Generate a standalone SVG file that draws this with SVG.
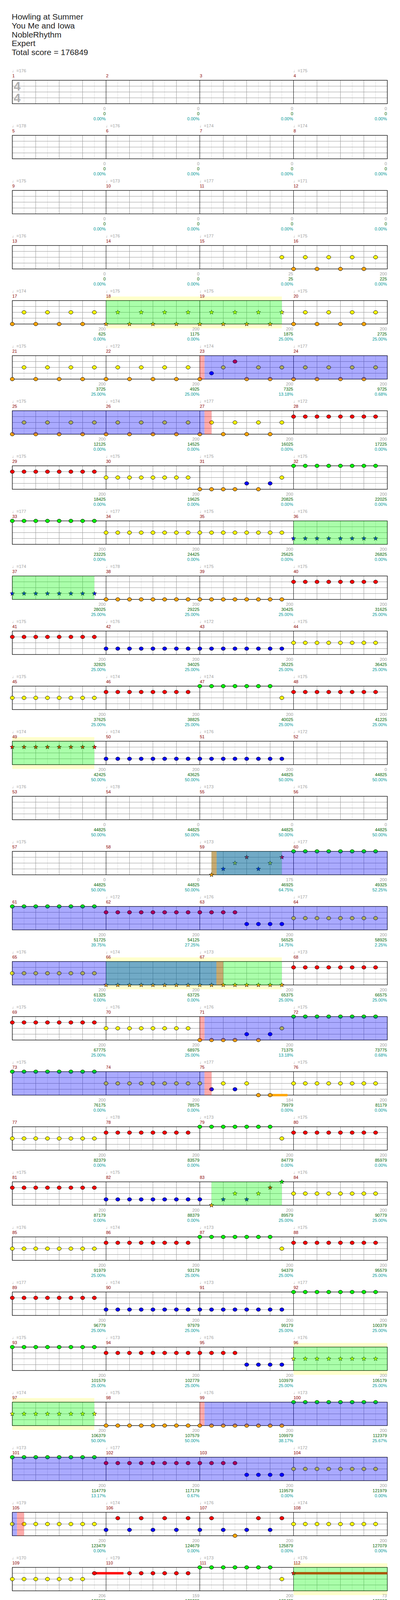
<svg xmlns="http://www.w3.org/2000/svg" width="1024" height="5845" viewBox="0 0 1024 5845">
<style>
text{font-family:"Liberation Sans","DejaVu Sans",sans-serif;font-size:11px}
.ti{font-size:21px;fill:#1e1e1e}
.ts{font-size:32px;font-weight:bold;fill:#b0b0b0}
.tp{fill:#a0a0a0}
.mn{fill:#8b0000}
.t1,.t2,.t3{text-anchor:end}
.t1{fill:#a0a0a0}
.t2{fill:#006400}
.t3{fill:#009999}
.g{fill:#00ee00}.r{fill:#ff0000}.y{fill:#ffff00}.b{fill:#0000ff}.o{fill:#ffa500}
.og{fill:#00ff00;fill-opacity:.333}
.ob{fill:#0000ff;fill-opacity:.333}
.op{fill:#ff0000;fill-opacity:.333}
.bd{fill:#ffffcc}
</style>
<defs>
<g id="grid">
<rect x="31.5" width="960" height="60" fill="#fff"/>
<path stroke="#ddd" d="M61.5 0v60M121.5 0v60M181.5 0v60M241.5 0v60M301.5 0v60M361.5 0v60M421.5 0v60M481.5 0v60M541.5 0v60M601.5 0v60M661.5 0v60M721.5 0v60M781.5 0v60M841.5 0v60M901.5 0v60M961.5 0v60"/>
<path stroke="#999" d="M91.5 0v60M151.5 0v60M211.5 0v60M331.5 0v60M391.5 0v60M451.5 0v60M571.5 0v60M631.5 0v60M691.5 0v60M811.5 0v60M871.5 0v60M931.5 0v60M31.5 15H991.5M31.5 30H991.5M31.5 45H991.5"/>
<path stroke="#000" d="M271.5 0v60M511.5 0v60M751.5 0v60"/>
<rect x="31.5" width="960" height="60" fill="none" stroke="#000" stroke-width="1.3"/>
</g>
<ellipse id="c" rx="5.3" ry="4.6" stroke="#000"/>
<polygon id="s" stroke="#000" stroke-width=".8" points="0,-6 1.47,-2.02 5.71,-1.85 2.38,.77 3.53,4.85 0,2.5 -3.53,4.85 -2.38,.77 -5.71,-1.85 -1.47,-2.02"/>
<g id="c4"><use href="#c"/><use href="#c" x="30"/><use href="#c" x="60"/><use href="#c" x="90"/></g>
<g id="c7"><use href="#c4"/><use href="#c" x="120"/><use href="#c" x="150"/><use href="#c" x="180"/></g>
<g id="c8"><use href="#c4"/><use href="#c4" x="120"/></g>
<g id="c9"><use href="#c8"/><use href="#c" x="240"/></g>
<g id="c12"><use href="#c8"/><use href="#c4" x="240"/></g>
<g id="c16"><use href="#c8"/><use href="#c8" x="240"/></g>
<g id="a4"><use href="#c"/><use href="#c" x="60"/><use href="#c" x="120"/><use href="#c" x="180"/></g>
<g id="a8"><use href="#a4"/><use href="#a4" x="240"/></g>
<g id="s4"><use href="#s"/><use href="#s" x="30"/><use href="#s" x="60"/><use href="#s" x="90"/></g>
<g id="s8"><use href="#s4"/><use href="#s4" x="120"/></g>
<g id="s7"><use href="#s4"/><use href="#s" x="120"/><use href="#s" x="150"/><use href="#s" x="180"/></g>
<g id="sa4"><use href="#s"/><use href="#s" x="60"/><use href="#s" x="120"/><use href="#s" x="180"/></g>
<g id="sa8"><use href="#sa4"/><use href="#sa4" x="240"/></g>
<g id="pA"><use href="#c8" class="y" x="31.5" y="30"/><use href="#c8" class="r" x="271.5" y="15"/><use href="#c7" class="g" x="511.5"/><use href="#c" class="y" x="721.5" y="30"/><use href="#c8" class="r" x="751.5" y="15"/></g>
<g id="pB"><use href="#c8" class="r" x="31.5" y="15"/><use href="#c8" class="y" x="271.5" y="30"/><use href="#c4" class="o" x="511.5" y="60"/><use href="#c" class="b" x="631.5" y="45"/><use href="#c" class="o" x="661.5" y="60"/><use href="#c" class="b" x="691.5" y="45"/><use href="#c" class="y" x="721.5" y="30"/><use href="#c8" class="g" x="751.5"/></g>
<g id="pC"><use href="#c8" class="g" x="31.5"/><use href="#c12" class="r" x="271.5" y="15"/><use href="#c4" class="b" x="631.5" y="45"/><use href="#c8" class="y" x="751.5" y="30"/></g>
</defs>
<rect width="1024" height="5845" fill="#fff"/>
<g id="title">
<text class="ti" x="30" y="49.5">Howling at Summer</text>
<text class="ti" x="30" y="72.5">You Me and Iowa</text>
<text class="ti" x="30" y="95.5">NobleRhythm</text>
<text class="ti" x="30" y="118">Expert</text>
<text class="ti" x="30" y="141">Total score = 176849</text>
</g>

<g id="row1" transform="translate(0,205.5)">
<use href="#grid"/>
<text class="ts" x="35" y="26.5">4</text><text class="ts" x="35" y="56.5">4</text>
<text class="tp" y="-20.5"><tspan x="31">♩=176</tspan><tspan x="751">♩=175</tspan></text>
<text class="mn" y="-7.8"><tspan x="31.5">1</tspan><tspan x="271.5">2</tspan><tspan x="511.5">3</tspan><tspan x="751.5">4</tspan></text>
<text class="t1" y="76.5"><tspan x="270.5">0</tspan><tspan x="510.5">0</tspan><tspan x="750.5">0</tspan><tspan x="990.5">0</tspan></text>
<text class="t2" y="89.5"><tspan x="270.5">0</tspan><tspan x="510.5">0</tspan><tspan x="750.5">0</tspan><tspan x="990.5">0</tspan></text>
<text class="t3" y="102.5"><tspan x="270.5">0.00%</tspan><tspan x="510.5">0.00%</tspan><tspan x="750.5">0.00%</tspan><tspan x="990.5">0.00%</tspan></text>
</g>

<g id="row2" transform="translate(0,346.5)">
<use href="#grid"/>
<text class="tp" y="-20.5"><tspan x="31">♩=178</tspan><tspan x="271">♩=176</tspan><tspan x="511">♩=174</tspan><tspan x="751">♩=174</tspan></text>
<text class="mn" y="-7.8"><tspan x="31.5">5</tspan><tspan x="271.5">6</tspan><tspan x="511.5">7</tspan><tspan x="751.5">8</tspan></text>
<text class="t1" y="76.5"><tspan x="270.5">0</tspan><tspan x="510.5">0</tspan><tspan x="750.5">0</tspan><tspan x="990.5">0</tspan></text>
<text class="t2" y="89.5"><tspan x="270.5">0</tspan><tspan x="510.5">0</tspan><tspan x="750.5">0</tspan><tspan x="990.5">0</tspan></text>
<text class="t3" y="102.5"><tspan x="270.5">0.00%</tspan><tspan x="510.5">0.00%</tspan><tspan x="750.5">0.00%</tspan><tspan x="990.5">0.00%</tspan></text>
</g>

<g id="row3" transform="translate(0,487.5)">
<use href="#grid"/>
<text class="tp" y="-20.5"><tspan x="31">♩=175</tspan><tspan x="271">♩=173</tspan><tspan x="511">♩=177</tspan><tspan x="751">♩=171</tspan></text>
<text class="mn" y="-7.8"><tspan x="31.5">9</tspan><tspan x="271.5">10</tspan><tspan x="511.5">11</tspan><tspan x="751.5">12</tspan></text>
<text class="t1" y="76.5"><tspan x="270.5">0</tspan><tspan x="510.5">0</tspan><tspan x="750.5">0</tspan><tspan x="990.5">0</tspan></text>
<text class="t2" y="89.5"><tspan x="270.5">0</tspan><tspan x="510.5">0</tspan><tspan x="750.5">0</tspan><tspan x="990.5">0</tspan></text>
<text class="t3" y="102.5"><tspan x="270.5">0.00%</tspan><tspan x="510.5">0.00%</tspan><tspan x="750.5">0.00%</tspan><tspan x="990.5">0.00%</tspan></text>
</g>

<g id="row4" transform="translate(0,628.5)">
<use href="#grid"/>
<use href="#a4" class="y" x="721.5" y="30"/><use href="#c" class="y" x="961.5" y="30"/><use href="#a4" class="o" x="751.5" y="60"/>
<text class="tp" y="-20.5"><tspan x="31">♩=176</tspan><tspan x="271">♩=176</tspan><tspan x="511">♩=177</tspan><tspan x="751">♩=175</tspan></text>
<text class="mn" y="-7.8"><tspan x="31.5">13</tspan><tspan x="271.5">14</tspan><tspan x="511.5">15</tspan><tspan x="751.5">16</tspan></text>
<text class="t1" y="76.5"><tspan x="270.5">0</tspan><tspan x="510.5">0</tspan><tspan x="750.5">25</tspan><tspan x="990.5">200</tspan></text>
<text class="t2" y="89.5"><tspan x="270.5">0</tspan><tspan x="510.5">0</tspan><tspan x="750.5">25</tspan><tspan x="990.5">225</tspan></text>
<text class="t3" y="102.5"><tspan x="270.5">0.00%</tspan><tspan x="510.5">0.00%</tspan><tspan x="750.5">0.00%</tspan><tspan x="990.5">0.00%</tspan></text>
</g>

<g id="row5" transform="translate(0,769.5)">
<rect class="bd" x="271.5" y="-10.5" width="450" height="81.5"/>
<use href="#grid"/>
<use href="#a4" class="y" x="61.5" y="30"/><use href="#a4" class="o" x="31.5" y="60"/>
<use href="#sa8" class="y" x="301.5" y="30"/><use href="#sa8" class="o" x="271.5" y="60"/>
<use href="#a4" class="y" x="781.5" y="30"/><use href="#a4" class="o" x="751.5" y="60"/>
<rect class="og" x="271.5" width="450" height="60"/>
<text class="tp" y="-20.5"><tspan x="31">♩=174</tspan><tspan x="271">♩=175</tspan><tspan x="511">♩=175</tspan><tspan x="751">♩=175</tspan></text>
<text class="mn" y="-7.8"><tspan x="31.5">17</tspan><tspan x="271.5">18</tspan><tspan x="511.5">19</tspan><tspan x="751.5">20</tspan></text>
<text class="t1" y="76.5"><tspan x="270.5">200</tspan><tspan x="510.5">200</tspan><tspan x="750.5">200</tspan><tspan x="990.5">200</tspan></text>
<text class="t2" y="89.5"><tspan x="270.5">625</tspan><tspan x="510.5">1175</tspan><tspan x="750.5">1875</tspan><tspan x="990.5">2725</tspan></text>
<text class="t3" y="102.5"><tspan x="270.5">0.00%</tspan><tspan x="510.5">0.00%</tspan><tspan x="750.5">25.00%</tspan><tspan x="990.5">25.00%</tspan></text>
</g>

<g id="row6" transform="translate(0,910.5)">
<use href="#grid"/>
<use href="#a8" class="y" x="61.5" y="30"/><use href="#a8" class="o" x="31.5" y="60"/><use href="#c" class="o" x="511.5" y="60"/>
<use href="#c" class="b" x="541.5" y="45"/><use href="#c" class="y" x="571.5" y="30"/><use href="#c" class="r" x="601.5" y="15"/>
<use href="#a4" class="y" x="661.5" y="30"/><use href="#c" class="y" x="901.5" y="30"/><use href="#c" class="y" x="961.5" y="30"/>
<use href="#a4" class="o" x="631.5" y="60"/><use href="#c" class="o" x="871.5" y="60"/><use href="#c" class="o" x="931.5" y="60"/>
<rect class="ob" x="523.5" width="468" height="60"/><rect class="op" x="511.5" width="12" height="60"/>
<text class="tp" y="-20.5"><tspan x="31">♩=175</tspan><tspan x="271">♩=172</tspan><tspan x="511">♩=174</tspan><tspan x="751">♩=177</tspan></text>
<text class="mn" y="-7.8"><tspan x="31.5">21</tspan><tspan x="271.5">22</tspan><tspan x="511.5">23</tspan><tspan x="751.5">24</tspan></text>
<text class="t1" y="76.5"><tspan x="270.5">200</tspan><tspan x="510.5">200</tspan><tspan x="750.5">200</tspan><tspan x="990.5">200</tspan></text>
<text class="t2" y="89.5"><tspan x="270.5">3725</tspan><tspan x="510.5">4925</tspan><tspan x="750.5">7325</tspan><tspan x="990.5">9725</tspan></text>
<text class="t3" y="102.5"><tspan x="270.5">25.00%</tspan><tspan x="510.5">25.00%</tspan><tspan x="750.5">13.18%</tspan><tspan x="990.5">0.68%</tspan></text>
</g>

<g id="row7" transform="translate(0,1051.5)">
<use href="#grid"/>
<use href="#a8" class="y" x="61.5" y="30"/><use href="#a8" class="o" x="31.5" y="60"/><use href="#c" class="o" x="511.5" y="60"/>
<use href="#a4" class="y" x="541.5" y="30"/>
<use href="#c" class="o" x="571.5" y="60"/><use href="#c" class="o" x="631.5" y="60"/><use href="#c" class="o" x="691.5" y="60"/>
<use href="#c8" class="r" x="751.5" y="15"/>
<rect class="ob" x="31.5" width="492" height="60"/><rect class="op" x="523.5" width="18" height="60"/>
<text class="tp" y="-20.5"><tspan x="31">♩=175</tspan><tspan x="271">♩=174</tspan><tspan x="511">♩=177</tspan><tspan x="751">♩=172</tspan></text>
<text class="mn" y="-7.8"><tspan x="31.5">25</tspan><tspan x="271.5">26</tspan><tspan x="511.5">27</tspan><tspan x="751.5">28</tspan></text>
<text class="t1" y="76.5"><tspan x="270.5">200</tspan><tspan x="510.5">200</tspan><tspan x="750.5">200</tspan><tspan x="990.5">200</tspan></text>
<text class="t2" y="89.5"><tspan x="270.5">12125</tspan><tspan x="510.5">14525</tspan><tspan x="750.5">16025</tspan><tspan x="990.5">17225</tspan></text>
<text class="t3" y="102.5"><tspan x="270.5">0.00%</tspan><tspan x="510.5">0.00%</tspan><tspan x="750.5">0.00%</tspan><tspan x="990.5">0.00%</tspan></text>
</g>

<g id="row8" transform="translate(0,1192.5)">
<use href="#grid"/>
<use href="#pB"/>
<text class="tp" y="-20.5"><tspan x="31">♩=175</tspan><tspan x="271">♩=175</tspan><tspan x="511">♩=175</tspan><tspan x="751">♩=175</tspan></text>
<text class="mn" y="-7.8"><tspan x="31.5">29</tspan><tspan x="271.5">30</tspan><tspan x="511.5">31</tspan><tspan x="751.5">32</tspan></text>
<text class="t1" y="76.5"><tspan x="270.5">200</tspan><tspan x="510.5">200</tspan><tspan x="750.5">200</tspan><tspan x="990.5">200</tspan></text>
<text class="t2" y="89.5"><tspan x="270.5">18425</tspan><tspan x="510.5">19625</tspan><tspan x="750.5">20825</tspan><tspan x="990.5">22025</tspan></text>
<text class="t3" y="102.5"><tspan x="270.5">0.00%</tspan><tspan x="510.5">0.00%</tspan><tspan x="750.5">0.00%</tspan><tspan x="990.5">0.00%</tspan></text>
</g>

<g id="row9" transform="translate(0,1333.5)">
<use href="#grid"/>
<use href="#c8" class="g" x="31.5"/><use href="#c16" class="y" x="271.5" y="30"/><use href="#s8" class="b" x="751.5" y="45"/>
<rect class="og" x="751.5" width="240" height="60"/>
<text class="tp" y="-20.5"><tspan x="31">♩=177</tspan><tspan x="271">♩=177</tspan><tspan x="511">♩=175</tspan><tspan x="751">♩=176</tspan></text>
<text class="mn" y="-7.8"><tspan x="31.5">33</tspan><tspan x="271.5">34</tspan><tspan x="511.5">35</tspan><tspan x="751.5">36</tspan></text>
<text class="t1" y="76.5"><tspan x="270.5">200</tspan><tspan x="510.5">200</tspan><tspan x="750.5">200</tspan><tspan x="990.5">200</tspan></text>
<text class="t2" y="89.5"><tspan x="270.5">23225</tspan><tspan x="510.5">24425</tspan><tspan x="750.5">25625</tspan><tspan x="990.5">26825</tspan></text>
<text class="t3" y="102.5"><tspan x="270.5">0.00%</tspan><tspan x="510.5">0.00%</tspan><tspan x="750.5">0.00%</tspan><tspan x="990.5">0.00%</tspan></text>
</g>

<g id="row10" transform="translate(0,1474.5)">
<use href="#grid"/>
<use href="#s8" class="b" x="31.5" y="45"/><use href="#c16" class="o" x="271.5" y="60"/><use href="#c8" class="r" x="751.5" y="15"/>
<rect class="og" x="31.5" width="210" height="60"/>
<text class="tp" y="-20.5"><tspan x="31">♩=174</tspan><tspan x="271">♩=178</tspan><tspan x="511">♩=175</tspan><tspan x="751">♩=175</tspan></text>
<text class="mn" y="-7.8"><tspan x="31.5">37</tspan><tspan x="271.5">38</tspan><tspan x="511.5">39</tspan><tspan x="751.5">40</tspan></text>
<text class="t1" y="76.5"><tspan x="270.5">200</tspan><tspan x="510.5">200</tspan><tspan x="750.5">200</tspan><tspan x="990.5">200</tspan></text>
<text class="t2" y="89.5"><tspan x="270.5">28025</tspan><tspan x="510.5">29225</tspan><tspan x="750.5">30425</tspan><tspan x="990.5">31625</tspan></text>
<text class="t3" y="102.5"><tspan x="270.5">25.00%</tspan><tspan x="510.5">25.00%</tspan><tspan x="750.5">25.00%</tspan><tspan x="990.5">25.00%</tspan></text>
</g>

<g id="row11" transform="translate(0,1615.5)">
<use href="#grid"/>
<use href="#c8" class="r" x="31.5" y="15"/><use href="#c16" class="b" x="271.5" y="45"/><use href="#c8" class="y" x="751.5" y="30"/>
<text class="tp" y="-20.5"><tspan x="31">♩=175</tspan><tspan x="271">♩=176</tspan><tspan x="511">♩=172</tspan><tspan x="751">♩=175</tspan></text>
<text class="mn" y="-7.8"><tspan x="31.5">41</tspan><tspan x="271.5">42</tspan><tspan x="511.5">43</tspan><tspan x="751.5">44</tspan></text>
<text class="t1" y="76.5"><tspan x="270.5">200</tspan><tspan x="510.5">200</tspan><tspan x="750.5">200</tspan><tspan x="990.5">200</tspan></text>
<text class="t2" y="89.5"><tspan x="270.5">32825</tspan><tspan x="510.5">34025</tspan><tspan x="750.5">35225</tspan><tspan x="990.5">36425</tspan></text>
<text class="t3" y="102.5"><tspan x="270.5">25.00%</tspan><tspan x="510.5">25.00%</tspan><tspan x="750.5">25.00%</tspan><tspan x="990.5">25.00%</tspan></text>
</g>

<g id="row12" transform="translate(0,1756.5)">
<use href="#grid"/>
<use href="#pA"/>
<text class="tp" y="-20.5"><tspan x="31">♩=175</tspan><tspan x="271">♩=174</tspan><tspan x="511">♩=174</tspan><tspan x="751">♩=175</tspan></text>
<text class="mn" y="-7.8"><tspan x="31.5">45</tspan><tspan x="271.5">46</tspan><tspan x="511.5">47</tspan><tspan x="751.5">48</tspan></text>
<text class="t1" y="76.5"><tspan x="270.5">200</tspan><tspan x="510.5">200</tspan><tspan x="750.5">200</tspan><tspan x="990.5">200</tspan></text>
<text class="t2" y="89.5"><tspan x="270.5">37625</tspan><tspan x="510.5">38825</tspan><tspan x="750.5">40025</tspan><tspan x="990.5">41225</tspan></text>
<text class="t3" y="102.5"><tspan x="270.5">25.00%</tspan><tspan x="510.5">25.00%</tspan><tspan x="750.5">25.00%</tspan><tspan x="990.5">25.00%</tspan></text>
</g>

<g id="row13" transform="translate(0,1897.5)">
<rect class="bd" x="31.5" y="-10.5" width="210" height="81.5"/>
<use href="#grid"/>
<use href="#s8" class="r" x="31.5" y="15"/><use href="#c16" class="b" x="271.5" y="45"/>
<rect class="og" x="31.5" width="210" height="60"/>
<text class="tp" y="-20.5"><tspan x="31">♩=174</tspan><tspan x="271">♩=174</tspan><tspan x="511">♩=176</tspan><tspan x="751">♩=172</tspan></text>
<text class="mn" y="-7.8"><tspan x="31.5">49</tspan><tspan x="271.5">50</tspan><tspan x="511.5">51</tspan><tspan x="751.5">52</tspan></text>
<text class="t1" y="76.5"><tspan x="270.5">200</tspan><tspan x="510.5">200</tspan><tspan x="750.5">200</tspan><tspan x="990.5">0</tspan></text>
<text class="t2" y="89.5"><tspan x="270.5">42425</tspan><tspan x="510.5">43625</tspan><tspan x="750.5">44825</tspan><tspan x="990.5">44825</tspan></text>
<text class="t3" y="102.5"><tspan x="270.5">50.00%</tspan><tspan x="510.5">50.00%</tspan><tspan x="750.5">50.00%</tspan><tspan x="990.5">50.00%</tspan></text>
</g>

<g id="row14" transform="translate(0,2038.5)">
<use href="#grid"/>
<text class="tp" y="-20.5"><tspan x="31">♩=176</tspan><tspan x="271">♩=178</tspan><tspan x="511">♩=173</tspan><tspan x="751">♩=176</tspan></text>
<text class="mn" y="-7.8"><tspan x="31.5">53</tspan><tspan x="271.5">54</tspan><tspan x="511.5">55</tspan><tspan x="751.5">56</tspan></text>
<text class="t1" y="76.5"><tspan x="270.5">0</tspan><tspan x="510.5">0</tspan><tspan x="750.5">0</tspan><tspan x="990.5">0</tspan></text>
<text class="t2" y="89.5"><tspan x="270.5">44825</tspan><tspan x="510.5">44825</tspan><tspan x="750.5">44825</tspan><tspan x="990.5">44825</tspan></text>
<text class="t3" y="102.5"><tspan x="270.5">50.00%</tspan><tspan x="510.5">50.00%</tspan><tspan x="750.5">50.00%</tspan><tspan x="990.5">50.00%</tspan></text>
</g>

<g id="row15" transform="translate(0,2179.5)">
<use href="#grid"/>
<use href="#s" class="o" x="541.5" y="60"/><use href="#s" class="b" x="571.5" y="45"/><use href="#s" class="y" x="601.5" y="30"/><use href="#s" class="r" x="631.5" y="15"/><use href="#s" class="b" x="661.5" y="45"/><use href="#s" class="y" x="691.5" y="30"/><use href="#s" class="r" x="721.5" y="15"/>
<use href="#c8" class="g" x="751.5"/>
<rect class="og" x="541.5" width="180" height="60"/><rect class="ob" x="554.5" width="437" height="60"/><rect class="op" x="541.5" width="13" height="60"/>
<text class="tp" y="-20.5"><tspan x="31">♩=175</tspan><tspan x="511">♩=173</tspan><tspan x="751">♩=177</tspan></text>
<text class="mn" y="-7.8"><tspan x="31.5">57</tspan><tspan x="271.5">58</tspan><tspan x="511.5">59</tspan><tspan x="751.5">60</tspan></text>
<text class="t1" y="76.5"><tspan x="270.5">0</tspan><tspan x="510.5">0</tspan><tspan x="750.5">175</tspan><tspan x="990.5">200</tspan></text>
<text class="t2" y="89.5"><tspan x="270.5">44825</tspan><tspan x="510.5">44825</tspan><tspan x="750.5">46925</tspan><tspan x="990.5">49325</tspan></text>
<text class="t3" y="102.5"><tspan x="270.5">50.00%</tspan><tspan x="510.5">50.00%</tspan><tspan x="750.5">64.75%</tspan><tspan x="990.5">52.25%</tspan></text>
</g>

<g id="row16" transform="translate(0,2320.5)">
<use href="#grid"/>
<use href="#pC"/>
<rect class="ob" x="31.5" width="960" height="60"/>
<text class="tp" y="-20.5"><tspan x="271">♩=172</tspan><tspan x="511">♩=176</tspan><tspan x="751">♩=177</tspan></text>
<text class="mn" y="-7.8"><tspan x="31.5">61</tspan><tspan x="271.5">62</tspan><tspan x="511.5">63</tspan><tspan x="751.5">64</tspan></text>
<text class="t1" y="76.5"><tspan x="270.5">200</tspan><tspan x="510.5">200</tspan><tspan x="750.5">200</tspan><tspan x="990.5">200</tspan></text>
<text class="t2" y="89.5"><tspan x="270.5">51725</tspan><tspan x="510.5">54125</tspan><tspan x="750.5">56525</tspan><tspan x="990.5">58925</tspan></text>
<text class="t3" y="102.5"><tspan x="270.5">39.75%</tspan><tspan x="510.5">27.25%</tspan><tspan x="750.5">14.75%</tspan><tspan x="990.5">2.25%</tspan></text>
</g>

<g id="row17" transform="translate(0,2461.5)">
<rect class="bd" x="271.5" y="-10.5" width="450" height="81.5"/>
<use href="#grid"/>
<use href="#c8" class="y" x="31.5" y="30"/><use href="#s8" class="o" x="271.5" y="60"/><use href="#s8" class="o" x="511.5" y="60"/><use href="#c8" class="r" x="751.5" y="15"/>
<rect class="og" x="271.5" width="450" height="60"/><rect class="ob" x="31.5" width="522.5" height="60"/><rect class="op" x="554" width="17.5" height="60"/>
<text class="tp" y="-20.5"><tspan x="31">♩=176</tspan><tspan x="271">♩=174</tspan><tspan x="511">♩=173</tspan><tspan x="751">♩=173</tspan></text>
<text class="mn" y="-7.8"><tspan x="31.5">65</tspan><tspan x="271.5">66</tspan><tspan x="511.5">67</tspan><tspan x="751.5">68</tspan></text>
<text class="t1" y="76.5"><tspan x="270.5">200</tspan><tspan x="510.5">200</tspan><tspan x="750.5">200</tspan><tspan x="990.5">200</tspan></text>
<text class="t2" y="89.5"><tspan x="270.5">61325</tspan><tspan x="510.5">63725</tspan><tspan x="750.5">65375</tspan><tspan x="990.5">66575</tspan></text>
<text class="t3" y="102.5"><tspan x="270.5">0.00%</tspan><tspan x="510.5">0.00%</tspan><tspan x="750.5">25.00%</tspan><tspan x="990.5">25.00%</tspan></text>
</g>

<g id="row18" transform="translate(0,2602.5)">
<use href="#grid"/>
<use href="#pB"/>
<rect class="ob" x="523.5" width="468" height="60"/><rect class="op" x="511.5" width="12" height="60"/>
<text class="tp" y="-20.5"><tspan x="31">♩=175</tspan><tspan x="271">♩=176</tspan><tspan x="511">♩=176</tspan><tspan x="751">♩=175</tspan></text>
<text class="mn" y="-7.8"><tspan x="31.5">69</tspan><tspan x="271.5">70</tspan><tspan x="511.5">71</tspan><tspan x="751.5">72</tspan></text>
<text class="t1" y="76.5"><tspan x="270.5">200</tspan><tspan x="510.5">200</tspan><tspan x="750.5">200</tspan><tspan x="990.5">200</tspan></text>
<text class="t2" y="89.5"><tspan x="270.5">67775</tspan><tspan x="510.5">68975</tspan><tspan x="750.5">71375</tspan><tspan x="990.5">73775</tspan></text>
<text class="t3" y="102.5"><tspan x="270.5">25.00%</tspan><tspan x="510.5">25.00%</tspan><tspan x="750.5">13.18%</tspan><tspan x="990.5">0.68%</tspan></text>
</g>

<g id="row19" transform="translate(0,2743.5)">
<use href="#grid"/>
<rect class="o" x="691.5" y="57" width="44.5" height="6"/>
<use href="#c8" class="g" x="31.5"/><use href="#c9" class="y" x="271.5" y="30"/>
<use href="#c" class="b" x="541.5" y="45"/><use href="#c" class="y" x="571.5" y="30"/><use href="#c" class="b" x="601.5" y="45"/><use href="#c" class="y" x="631.5" y="30"/><use href="#c" class="o" x="661.5" y="60"/><use href="#c" class="o" x="691.5" y="60"/>
<use href="#c8" class="y" x="751.5" y="30"/>
<rect class="ob" x="31.5" width="492" height="60"/><rect class="op" x="523.5" width="18" height="60"/>
<text class="tp" y="-20.5"><tspan x="31">♩=175</tspan><tspan x="511">♩=177</tspan><tspan x="751">♩=175</tspan></text>
<text class="mn" y="-7.8"><tspan x="31.5">73</tspan><tspan x="271.5">74</tspan><tspan x="511.5">75</tspan><tspan x="751.5">76</tspan></text>
<text class="t1" y="76.5"><tspan x="270.5">200</tspan><tspan x="510.5">200</tspan><tspan x="750.5">184</tspan><tspan x="990.5">200</tspan></text>
<text class="t2" y="89.5"><tspan x="270.5">76175</tspan><tspan x="510.5">78575</tspan><tspan x="750.5">79979</tspan><tspan x="990.5">81179</tspan></text>
<text class="t3" y="102.5"><tspan x="270.5">0.00%</tspan><tspan x="510.5">0.00%</tspan><tspan x="750.5">0.00%</tspan><tspan x="990.5">0.00%</tspan></text>
</g>

<g id="row20" transform="translate(0,2884.5)">
<use href="#grid"/>
<use href="#pA"/>
<text class="tp" y="-20.5"><tspan x="271">♩=178</tspan><tspan x="511">♩=173</tspan><tspan x="751">♩=175</tspan></text>
<text class="mn" y="-7.8"><tspan x="31.5">77</tspan><tspan x="271.5">78</tspan><tspan x="511.5">79</tspan><tspan x="751.5">80</tspan></text>
<text class="t1" y="76.5"><tspan x="270.5">200</tspan><tspan x="510.5">200</tspan><tspan x="750.5">200</tspan><tspan x="990.5">200</tspan></text>
<text class="t2" y="89.5"><tspan x="270.5">82379</tspan><tspan x="510.5">83579</tspan><tspan x="750.5">84779</tspan><tspan x="990.5">85979</tspan></text>
<text class="t3" y="102.5"><tspan x="270.5">0.00%</tspan><tspan x="510.5">0.00%</tspan><tspan x="750.5">0.00%</tspan><tspan x="990.5">0.00%</tspan></text>
</g>

<g id="row21" transform="translate(0,3025.5)">
<use href="#grid"/>
<use href="#c8" class="r" x="31.5" y="15"/><use href="#c9" class="b" x="271.5" y="45"/>
<use href="#s" class="o" x="541.5" y="60"/><use href="#s" class="b" x="571.5" y="45"/><use href="#s" class="y" x="601.5" y="30"/><use href="#s" class="b" x="631.5" y="45"/><use href="#s" class="y" x="661.5" y="30"/><use href="#s" class="r" x="691.5" y="15"/><use href="#s" class="g" x="721.5"/>
<use href="#c8" class="y" x="751.5" y="30"/>
<rect class="og" x="541.5" width="180" height="60"/>
<text class="tp" y="-20.5"><tspan x="31">♩=175</tspan><tspan x="271">♩=175</tspan><tspan x="751">♩=176</tspan></text>
<text class="mn" y="-7.8"><tspan x="31.5">81</tspan><tspan x="271.5">82</tspan><tspan x="511.5">83</tspan><tspan x="751.5">84</tspan></text>
<text class="t1" y="76.5"><tspan x="270.5">200</tspan><tspan x="510.5">200</tspan><tspan x="750.5">200</tspan><tspan x="990.5">200</tspan></text>
<text class="t2" y="89.5"><tspan x="270.5">87179</tspan><tspan x="510.5">88379</tspan><tspan x="750.5">89579</tspan><tspan x="990.5">90779</tspan></text>
<text class="t3" y="102.5"><tspan x="270.5">0.00%</tspan><tspan x="510.5">0.00%</tspan><tspan x="750.5">25.00%</tspan><tspan x="990.5">25.00%</tspan></text>
</g>

<g id="row22" transform="translate(0,3166.5)">
<use href="#grid"/>
<use href="#pA"/>
<text class="tp" y="-20.5"><tspan x="31">♩=176</tspan><tspan x="271">♩=174</tspan><tspan x="511">♩=173</tspan><tspan x="751">♩=175</tspan></text>
<text class="mn" y="-7.8"><tspan x="31.5">85</tspan><tspan x="271.5">86</tspan><tspan x="511.5">87</tspan><tspan x="751.5">88</tspan></text>
<text class="t1" y="76.5"><tspan x="270.5">200</tspan><tspan x="510.5">200</tspan><tspan x="750.5">200</tspan><tspan x="990.5">200</tspan></text>
<text class="t2" y="89.5"><tspan x="270.5">91979</tspan><tspan x="510.5">93179</tspan><tspan x="750.5">94379</tspan><tspan x="990.5">95579</tspan></text>
<text class="t3" y="102.5"><tspan x="270.5">25.00%</tspan><tspan x="510.5">25.00%</tspan><tspan x="750.5">25.00%</tspan><tspan x="990.5">25.00%</tspan></text>
</g>

<g id="row23" transform="translate(0,3307.5)">
<use href="#grid"/>
<use href="#c8" class="r" x="31.5" y="15"/><use href="#c16" class="b" x="271.5" y="45"/><use href="#c8" class="g" x="751.5"/>
<text class="tp" y="-20.5"><tspan x="31">♩=177</tspan><tspan x="271">♩=174</tspan><tspan x="511">♩=173</tspan><tspan x="751">♩=177</tspan></text>
<text class="mn" y="-7.8"><tspan x="31.5">89</tspan><tspan x="271.5">90</tspan><tspan x="511.5">91</tspan><tspan x="751.5">92</tspan></text>
<text class="t1" y="76.5"><tspan x="270.5">200</tspan><tspan x="510.5">200</tspan><tspan x="750.5">200</tspan><tspan x="990.5">200</tspan></text>
<text class="t2" y="89.5"><tspan x="270.5">96779</tspan><tspan x="510.5">97979</tspan><tspan x="750.5">99179</tspan><tspan x="990.5">100379</tspan></text>
<text class="t3" y="102.5"><tspan x="270.5">25.00%</tspan><tspan x="510.5">25.00%</tspan><tspan x="750.5">25.00%</tspan><tspan x="990.5">25.00%</tspan></text>
</g>

<g id="row24" transform="translate(0,3448.5)">
<rect class="bd" x="751.5" y="-10.5" width="240" height="81.5"/>
<use href="#grid"/>
<use href="#c8" class="g" x="31.5"/><use href="#c12" class="r" x="271.5" y="15"/><use href="#c4" class="b" x="631.5" y="45"/><use href="#s8" class="y" x="751.5" y="30"/>
<rect class="og" x="751.5" width="240" height="60"/>
<text class="tp" y="-20.5"><tspan x="31">♩=175</tspan><tspan x="271">♩=173</tspan><tspan x="511">♩=176</tspan><tspan x="751">♩=176</tspan></text>
<text class="mn" y="-7.8"><tspan x="31.5">93</tspan><tspan x="271.5">94</tspan><tspan x="511.5">95</tspan><tspan x="751.5">96</tspan></text>
<text class="t1" y="76.5"><tspan x="270.5">200</tspan><tspan x="510.5">200</tspan><tspan x="750.5">200</tspan><tspan x="990.5">200</tspan></text>
<text class="t2" y="89.5"><tspan x="270.5">101579</tspan><tspan x="510.5">102779</tspan><tspan x="750.5">103979</tspan><tspan x="990.5">105179</tspan></text>
<text class="t3" y="102.5"><tspan x="270.5">25.00%</tspan><tspan x="510.5">25.00%</tspan><tspan x="750.5">25.00%</tspan><tspan x="990.5">25.00%</tspan></text>
</g>

<g id="row25" transform="translate(0,3589.5)">
<rect class="bd" x="31.5" y="-10.5" width="210" height="81.5"/>
<use href="#grid"/>
<use href="#s8" class="y" x="31.5" y="30"/><use href="#c16" class="o" x="271.5" y="60"/><use href="#c8" class="g" x="751.5"/>
<rect class="og" x="31.5" width="210" height="60"/><rect class="ob" x="523.5" width="468" height="60"/><rect class="op" x="511.5" width="12" height="60"/>
<text class="tp" y="-20.5"><tspan x="31">♩=174</tspan><tspan x="271">♩=175</tspan><tspan x="511">♩=176</tspan><tspan x="751">♩=173</tspan></text>
<text class="mn" y="-7.8"><tspan x="31.5">97</tspan><tspan x="271.5">98</tspan><tspan x="511.5">99</tspan><tspan x="751.5">100</tspan></text>
<text class="t1" y="76.5"><tspan x="270.5">200</tspan><tspan x="510.5">200</tspan><tspan x="750.5">200</tspan><tspan x="990.5">200</tspan></text>
<text class="t2" y="89.5"><tspan x="270.5">106379</tspan><tspan x="510.5">107579</tspan><tspan x="750.5">109979</tspan><tspan x="990.5">112379</tspan></text>
<text class="t3" y="102.5"><tspan x="270.5">50.00%</tspan><tspan x="510.5">50.00%</tspan><tspan x="750.5">38.17%</tspan><tspan x="990.5">25.67%</tspan></text>
</g>

<g id="row26" transform="translate(0,3730.5)">
<use href="#grid"/>
<use href="#pC"/>
<rect class="ob" x="31.5" width="960" height="60"/>
<text class="tp" y="-20.5"><tspan x="31">♩=173</tspan><tspan x="271">♩=177</tspan><tspan x="751">♩=172</tspan></text>
<text class="mn" y="-7.8"><tspan x="31.5">101</tspan><tspan x="271.5">102</tspan><tspan x="511.5">103</tspan><tspan x="751.5">104</tspan></text>
<text class="t1" y="76.5"><tspan x="270.5">200</tspan><tspan x="510.5">200</tspan><tspan x="750.5">200</tspan><tspan x="990.5">200</tspan></text>
<text class="t2" y="89.5"><tspan x="270.5">114779</tspan><tspan x="510.5">117179</tspan><tspan x="750.5">119579</tspan><tspan x="990.5">121979</tspan></text>
<text class="t3" y="102.5"><tspan x="270.5">13.17%</tspan><tspan x="510.5">0.67%</tspan><tspan x="750.5">0.00%</tspan><tspan x="990.5">0.00%</tspan></text>
</g>

<g id="row27" transform="translate(0,3871.5)">
<use href="#grid"/>
<use href="#c8" class="y" x="31.5" y="30"/><use href="#a8" class="b" x="271.5" y="45"/><use href="#a4" class="r" x="301.5" y="15"/><use href="#c" class="r" x="541.5" y="15"/><use href="#c" class="r" x="661.5" y="15"/><use href="#c" class="r" x="721.5" y="15"/><use href="#c" class="o" x="601.5" y="60"/><use href="#c8" class="y" x="751.5" y="30"/>
<rect class="ob" x="31.5" width="12" height="60"/><rect class="op" x="43.5" width="18" height="60"/>
<text class="tp" y="-20.5"><tspan x="31">♩=179</tspan><tspan x="271">♩=174</tspan><tspan x="511">♩=176</tspan><tspan x="751">♩=174</tspan></text>
<text class="mn" y="-7.8"><tspan x="31.5">105</tspan><tspan x="271.5">106</tspan><tspan x="511.5">107</tspan><tspan x="751.5">108</tspan></text>
<text class="t1" y="76.5"><tspan x="270.5">200</tspan><tspan x="510.5">200</tspan><tspan x="750.5">200</tspan><tspan x="990.5">200</tspan></text>
<text class="t2" y="89.5"><tspan x="270.5">123479</tspan><tspan x="510.5">124679</tspan><tspan x="750.5">125879</tspan><tspan x="990.5">127079</tspan></text>
<text class="t3" y="102.5"><tspan x="270.5">0.00%</tspan><tspan x="510.5">0.00%</tspan><tspan x="750.5">0.00%</tspan><tspan x="990.5">0.00%</tspan></text>
</g>

<g id="row28" transform="translate(0,4012.5)">
<rect class="bd" x="751.5" y="-10.5" width="240" height="81.5"/>
<use href="#grid"/>
<rect class="r" x="241.5" y="12" width="74.5" height="6"/><rect class="r" x="751.5" y="12" width="240" height="6"/>
<use href="#c7" class="y" x="31.5" y="30"/><use href="#c" class="r" x="241.5" y="15"/><use href="#c4" class="r" x="331.5" y="15"/><use href="#c" class="r" x="451.5" y="15"/><use href="#c" class="r" x="481.5" y="15"/><use href="#c7" class="g" x="511.5"/><use href="#c" class="y" x="721.5" y="30"/><use href="#s" class="r" x="751.5" y="15"/>
<rect class="og" x="751.5" width="240" height="60"/>
<text class="tp" y="-20.5"><tspan x="31">♩=170</tspan><tspan x="271">♩=179</tspan><tspan x="511">♩=173</tspan><tspan x="751">♩=176</tspan></text>
<text class="mn" y="-7.8"><tspan x="31.5">109</tspan><tspan x="271.5">110</tspan><tspan x="511.5">111</tspan><tspan x="751.5">112</tspan></text>
<text class="t1" y="76.5"><tspan x="270.5">206</tspan><tspan x="510.5">159</tspan><tspan x="750.5">200</tspan><tspan x="990.5">73</tspan></text>
<text class="t2" y="89.5"><tspan x="270.5">128315</tspan><tspan x="510.5">129269</tspan><tspan x="750.5">130469</tspan><tspan x="990.5">130907</tspan></text>
<text class="t3" y="102.5"><tspan x="270.5">0.00%</tspan><tspan x="510.5">0.00%</tspan><tspan x="750.5">0.00%</tspan><tspan x="990.5">13.60%</tspan></text>
</g>

<g id="row29" transform="translate(0,4153.5)">
<rect class="bd" x="31.5" y="-10.5" width="720" height="81.5"/>
<use href="#grid"/>
<rect class="r" x="31.5" y="12" width="224.5" height="6"/><rect class="b" x="271.5" y="42" width="480" height="6"/><use href="#s" class="b" x="271.5" y="45"/>
<rect class="og" x="31.5" width="720" height="60"/>
<text class="tp" y="-20.5"><tspan x="31">♩=176</tspan><tspan x="271">♩=172</tspan><tspan x="511">♩=178</tspan><tspan x="751">♩=175</tspan></text>
<text class="mn" y="-7.8"><tspan x="31.5">113</tspan><tspan x="271.5">114</tspan><tspan x="511.5">115</tspan><tspan x="751.5">116</tspan></text>
<text class="t1" y="76.5"><tspan x="270.5">45</tspan><tspan x="510.5">73</tspan><tspan x="750.5">48</tspan><tspan x="990.5">0</tspan></text>
<text class="t2" y="89.5"><tspan x="270.5">131177</tspan><tspan x="510.5">131615</tspan><tspan x="750.5">131903</tspan><tspan x="990.5">131903</tspan></text>
<text class="t3" y="102.5"><tspan x="270.5">26.35%</tspan><tspan x="510.5">64.95%</tspan><tspan x="750.5">78.55%</tspan><tspan x="990.5">78.55%</tspan></text>
</g>

<g id="row30" transform="translate(0,4294.5)">
<use href="#grid"/>
<text class="tp" y="-20.5"><tspan x="31">♩=175</tspan><tspan x="271">♩=175</tspan><tspan x="511">♩=174</tspan><tspan x="751">♩=175</tspan></text>
<text class="mn" y="-7.8"><tspan x="31.5">117</tspan><tspan x="271.5">118</tspan><tspan x="511.5">119</tspan><tspan x="751.5">120</tspan></text>
<text class="t1" y="76.5"><tspan x="270.5">0</tspan><tspan x="510.5">0</tspan><tspan x="750.5">0</tspan><tspan x="990.5">0</tspan></text>
<text class="t2" y="89.5"><tspan x="270.5">131903</tspan><tspan x="510.5">131903</tspan><tspan x="750.5">131903</tspan><tspan x="990.5">131903</tspan></text>
<text class="t3" y="102.5"><tspan x="270.5">78.55%</tspan><tspan x="510.5">78.55%</tspan><tspan x="750.5">78.55%</tspan><tspan x="990.5">78.55%</tspan></text>
</g>

<g id="row31" transform="translate(0,4435.5)">
<use href="#grid"/>
<text class="tp" y="-20.5"><tspan x="31">♩=175</tspan><tspan x="271">♩=175</tspan><tspan x="511">♩=175</tspan><tspan x="751">♩=177</tspan></text>
<text class="mn" y="-7.8"><tspan x="31.5">121</tspan><tspan x="271.5">122</tspan><tspan x="511.5">123</tspan><tspan x="751.5">124</tspan></text>
<text class="t1" y="76.5"><tspan x="270.5">0</tspan><tspan x="510.5">0</tspan><tspan x="750.5">0</tspan><tspan x="990.5">0</tspan></text>
<text class="t2" y="89.5"><tspan x="270.5">131903</tspan><tspan x="510.5">131903</tspan><tspan x="750.5">131903</tspan><tspan x="990.5">131903</tspan></text>
<text class="t3" y="102.5"><tspan x="270.5">78.55%</tspan><tspan x="510.5">78.55%</tspan><tspan x="750.5">78.55%</tspan><tspan x="990.5">78.55%</tspan></text>
</g>

<g id="row32" transform="translate(0,4576.5)">
<use href="#grid"/>
<text class="tp" y="-20.5"><tspan x="31">♩=173</tspan><tspan x="271">♩=176</tspan><tspan x="511">♩=177</tspan><tspan x="751">♩=175</tspan></text>
<text class="mn" y="-7.8"><tspan x="31.5">125</tspan><tspan x="271.5">126</tspan><tspan x="511.5">127</tspan><tspan x="751.5">128</tspan></text>
<text class="t1" y="76.5"><tspan x="270.5">0</tspan><tspan x="510.5">0</tspan><tspan x="750.5">0</tspan><tspan x="990.5">0</tspan></text>
<text class="t2" y="89.5"><tspan x="270.5">131903</tspan><tspan x="510.5">131903</tspan><tspan x="750.5">131903</tspan><tspan x="990.5">131903</tspan></text>
<text class="t3" y="102.5"><tspan x="270.5">78.55%</tspan><tspan x="510.5">78.55%</tspan><tspan x="750.5">78.55%</tspan><tspan x="990.5">78.55%</tspan></text>
</g>

<g id="row33" transform="translate(0,4717.5)">
<use href="#grid"/>
<use href="#c8" class="g" x="751.5"/>
<rect class="ob" x="763.5" width="228" height="60"/><rect class="op" x="751.5" width="12" height="60"/>
<text class="tp" y="-20.5"><tspan x="31">♩=176</tspan><tspan x="271">♩=176</tspan><tspan x="511">♩=176</tspan><tspan x="751">♩=172</tspan></text>
<text class="mn" y="-7.8"><tspan x="31.5">129</tspan><tspan x="271.5">130</tspan><tspan x="511.5">131</tspan><tspan x="751.5">132</tspan></text>
<text class="t1" y="76.5"><tspan x="270.5">0</tspan><tspan x="510.5">0</tspan><tspan x="750.5">0</tspan><tspan x="990.5">200</tspan></text>
<text class="t2" y="89.5"><tspan x="270.5">131903</tspan><tspan x="510.5">131903</tspan><tspan x="750.5">131903</tspan><tspan x="990.5">134303</tspan></text>
<text class="t3" y="102.5"><tspan x="270.5">78.55%</tspan><tspan x="510.5">78.55%</tspan><tspan x="750.5">78.55%</tspan><tspan x="990.5">66.73%</tspan></text>
</g>

<g id="row34" transform="translate(0,4858.5)">
<rect class="bd" x="781.5" y="-10.5" width="210" height="81.5"/>
<use href="#grid"/>
<use href="#c8" class="g" x="31.5"/><use href="#c12" class="r" x="271.5" y="15"/><use href="#c4" class="y" x="631.5" y="30"/><use href="#c" class="b" x="751.5" y="45"/><use href="#s7" class="b" x="781.5" y="45"/>
<rect class="og" x="781.5" width="210" height="60"/><rect class="ob" x="31.5" width="960" height="60"/>
<text class="tp" y="-20.5"><tspan x="31">♩=170</tspan><tspan x="271">♩=176</tspan><tspan x="511">♩=178</tspan><tspan x="751">♩=174</tspan></text>
<text class="mn" y="-7.8"><tspan x="31.5">133</tspan><tspan x="271.5">134</tspan><tspan x="511.5">135</tspan><tspan x="751.5">136</tspan></text>
<text class="t1" y="76.5"><tspan x="270.5">200</tspan><tspan x="510.5">200</tspan><tspan x="750.5">200</tspan><tspan x="990.5">200</tspan></text>
<text class="t2" y="89.5"><tspan x="270.5">136703</tspan><tspan x="510.5">139103</tspan><tspan x="750.5">141503</tspan><tspan x="990.5">143903</tspan></text>
<text class="t3" y="102.5"><tspan x="270.5">54.23%</tspan><tspan x="510.5">41.73%</tspan><tspan x="750.5">29.23%</tspan><tspan x="990.5">16.73%</tspan></text>
</g>

<g id="row35" transform="translate(0,4999.5)">
<rect class="bd" x="31.5" y="-10.5" width="210" height="81.5"/>
<use href="#grid"/>
<use href="#s8" class="b" x="31.5" y="45"/><use href="#c8" class="o" x="271.5" y="60"/><use href="#c7" class="o" x="511.5" y="60"/><use href="#c" class="b" x="721.5" y="45"/><use href="#c8" class="y" x="751.5" y="30"/>
<rect class="og" x="31.5" width="210" height="60"/><rect class="ob" x="31.5" width="960" height="60"/>
<text class="tp" y="-20.5"><tspan x="31">♩=177</tspan><tspan x="271">♩=175</tspan><tspan x="511">♩=173</tspan><tspan x="751">♩=176</tspan></text>
<text class="mn" y="-7.8"><tspan x="31.5">137</tspan><tspan x="271.5">138</tspan><tspan x="511.5">139</tspan><tspan x="751.5">140</tspan></text>
<text class="t1" y="76.5"><tspan x="270.5">200</tspan><tspan x="510.5">200</tspan><tspan x="750.5">200</tspan><tspan x="990.5">200</tspan></text>
<text class="t2" y="89.5"><tspan x="270.5">146303</tspan><tspan x="510.5">148703</tspan><tspan x="750.5">151103</tspan><tspan x="990.5">153503</tspan></text>
<text class="t3" y="102.5"><tspan x="270.5">29.23%</tspan><tspan x="510.5">16.73%</tspan><tspan x="750.5">4.23%</tspan><tspan x="990.5">0.00%</tspan></text>
</g>

<g id="row36" transform="translate(0,5140.5)">
<use href="#grid"/>
<use href="#pA"/>
<rect class="ob" x="31.5" width="732" height="60"/><rect class="op" x="763.5" width="18" height="60"/>
<text class="tp" y="-20.5"><tspan x="31">♩=174</tspan><tspan x="271">♩=178</tspan><tspan x="511">♩=176</tspan><tspan x="751">♩=176</tspan></text>
<text class="mn" y="-7.8"><tspan x="31.5">141</tspan><tspan x="271.5">142</tspan><tspan x="511.5">143</tspan><tspan x="751.5">144</tspan></text>
<text class="t1" y="76.5"><tspan x="270.5">200</tspan><tspan x="510.5">200</tspan><tspan x="750.5">200</tspan><tspan x="990.5">200</tspan></text>
<text class="t2" y="89.5"><tspan x="270.5">155903</tspan><tspan x="510.5">158303</tspan><tspan x="750.5">160703</tspan><tspan x="990.5">162203</tspan></text>
<text class="t3" y="102.5"><tspan x="270.5">0.00%</tspan><tspan x="510.5">0.00%</tspan><tspan x="750.5">0.00%</tspan><tspan x="990.5">0.00%</tspan></text>
</g>

<g id="row37" transform="translate(0,5281.5)">
<use href="#grid"/>
<use href="#c8" class="r" x="31.5" y="15"/><use href="#c9" class="b" x="271.5" y="45"/><use href="#c" class="o" x="541.5" y="60"/><use href="#c" class="b" x="571.5" y="45"/><use href="#c" class="y" x="601.5" y="30"/><use href="#c" class="b" x="631.5" y="45"/><use href="#c" class="o" x="661.5" y="60"/><use href="#c" class="b" x="691.5" y="45"/><use href="#c9" class="y" x="721.5" y="30"/>
<text class="tp" y="-20.5"><tspan x="31">♩=177</tspan><tspan x="271">♩=174</tspan></text>
<text class="mn" y="-7.8"><tspan x="31.5">145</tspan><tspan x="271.5">146</tspan><tspan x="511.5">147</tspan><tspan x="751.5">148</tspan></text>
<text class="t1" y="76.5"><tspan x="270.5">200</tspan><tspan x="510.5">200</tspan><tspan x="750.5">200</tspan><tspan x="990.5">200</tspan></text>
<text class="t2" y="89.5"><tspan x="270.5">163403</tspan><tspan x="510.5">164603</tspan><tspan x="750.5">165803</tspan><tspan x="990.5">167003</tspan></text>
<text class="t3" y="102.5"><tspan x="270.5">0.00%</tspan><tspan x="510.5">0.00%</tspan><tspan x="750.5">0.00%</tspan><tspan x="990.5">0.00%</tspan></text>
</g>

<g id="row38" transform="translate(0,5422.5)">
<use href="#grid"/>
<use href="#pA"/>
<text class="tp" y="-20.5"><tspan x="31">♩=174</tspan><tspan x="271">♩=175</tspan><tspan x="511">♩=174</tspan><tspan x="751">♩=174</tspan></text>
<text class="mn" y="-7.8"><tspan x="31.5">149</tspan><tspan x="271.5">150</tspan><tspan x="511.5">151</tspan><tspan x="751.5">152</tspan></text>
<text class="t1" y="76.5"><tspan x="270.5">200</tspan><tspan x="510.5">200</tspan><tspan x="750.5">200</tspan><tspan x="990.5">200</tspan></text>
<text class="t2" y="89.5"><tspan x="270.5">168203</tspan><tspan x="510.5">169403</tspan><tspan x="750.5">170603</tspan><tspan x="990.5">171803</tspan></text>
<text class="t3" y="102.5"><tspan x="270.5">0.00%</tspan><tspan x="510.5">0.00%</tspan><tspan x="750.5">0.00%</tspan><tspan x="990.5">0.00%</tspan></text>
</g>

<g id="row39" transform="translate(0,5563.5)">
<use href="#grid"/>
<rect class="r" x="751.5" y="12" width="240" height="6"/>
<use href="#c8" class="r" x="31.5" y="15"/><use href="#c16" class="b" x="271.5" y="45"/><use href="#c" class="r" x="751.5" y="15"/>
<text class="tp" y="-20.5"><tspan x="31">♩=176</tspan><tspan x="271">♩=172</tspan><tspan x="511">♩=176</tspan></text>
<text class="mn" y="-7.8"><tspan x="31.5">153</tspan><tspan x="271.5">154</tspan><tspan x="511.5">155</tspan><tspan x="751.5">156</tspan></text>
<text class="t1" y="76.5"><tspan x="270.5">200</tspan><tspan x="510.5">200</tspan><tspan x="750.5">200</tspan><tspan x="990.5">73</tspan></text>
<text class="t2" y="89.5"><tspan x="270.5">173003</tspan><tspan x="510.5">174203</tspan><tspan x="750.5">175403</tspan><tspan x="990.5">175841</tspan></text>
<text class="t3" y="102.5"><tspan x="270.5">0.00%</tspan><tspan x="510.5">0.00%</tspan><tspan x="750.5">0.00%</tspan><tspan x="990.5">0.00%</tspan></text>
</g>

<g id="row40" transform="translate(0,5704.5)">
<use href="#grid"/>
<rect class="r" x="31.5" y="12" width="840" height="6"/>
<text class="mn" y="-7.8"><tspan x="31.5">157</tspan><tspan x="271.5">158</tspan><tspan x="511.5">159</tspan><tspan x="751.5">160</tspan></text>
<text class="t1" y="76.5"><tspan x="270.5">48</tspan><tspan x="510.5">48</tspan><tspan x="750.5">48</tspan><tspan x="990.5">24</tspan></text>
<text class="t2" y="89.5"><tspan x="270.5">176129</tspan><tspan x="510.5">176417</tspan><tspan x="750.5">176705</tspan><tspan x="990.5">176849</tspan></text>
<text class="t3" y="102.5"><tspan x="270.5">0.00%</tspan><tspan x="510.5">0.00%</tspan><tspan x="750.5">0.00%</tspan><tspan x="990.5">0.00%</tspan></text>
</g>
</svg>
